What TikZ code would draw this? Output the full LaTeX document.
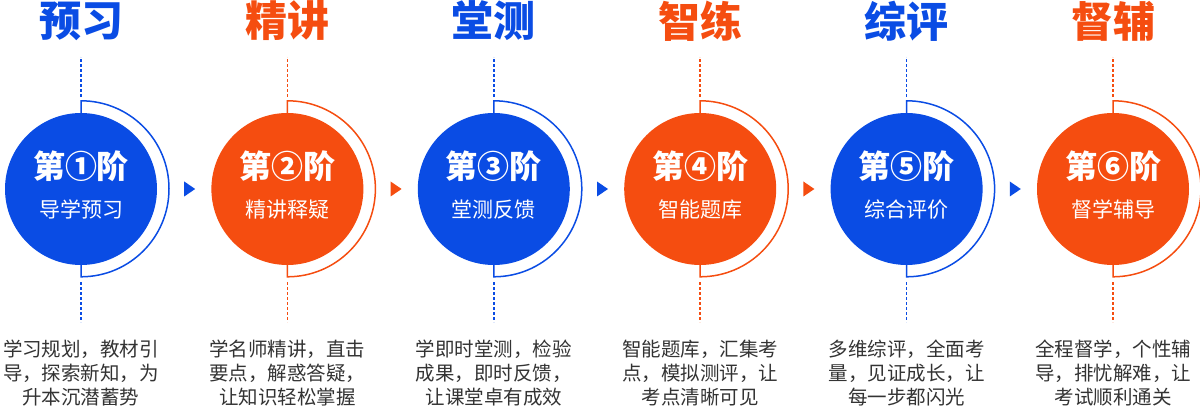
\documentclass[tikz,border=0pt]{standalone}
\usepackage{fontspec}
\setmainfont{Noto Sans CJK SC}
\usepackage{xcolor}
\usepackage{tikz}
\usetikzlibrary{positioning}
\definecolor{cblue}{RGB}{10,76,228}
\definecolor{corange}{RGB}{245,77,16}
\definecolor{cgray}{RGB}{51,51,51}

\begin{document}
\begin{tikzpicture}[x=1pt, y=1pt, node distance=54pt,
        stage/.style={circle, minimum size=152pt, inner sep=0pt, text=white, align=center, font=\fontsize{21}{39}\selectfont},
        title/.style={inner sep=0pt, font=\fontsize{42}{42}\selectfont\bfseries},
        desc/.style={inner sep=0pt, align=center, text=cgray, font=\fontsize{19.5}{24}\selectfont},
        ring/.style={line width=1.5pt},
        guide/.style={line width=1.5pt, dash pattern=on 3pt off 2pt}]

        \useasboundingbox (0,0) rectangle (1200,415);
        \coordinate (toprow) at (0,394);
        \coordinate (textrow) at (0,42);

        % Stages
        \node (s1) [stage, fill=cblue] at (81,226) {{\fontsize{32}{39}\selectfont\bfseries 第①阶}\\导学预习\rule[-9pt]{0pt}{9pt}};
        \node (s2) [right=of s1, stage, fill=corange] {{\fontsize{32}{39}\selectfont\bfseries 第②阶}\\精讲释疑\rule[-9pt]{0pt}{9pt}};
        \node (s3) [right=of s2, stage, fill=cblue] {{\fontsize{32}{39}\selectfont\bfseries 第③阶}\\堂测反馈\rule[-9pt]{0pt}{9pt}};
        \node (s4) [right=of s3, stage, fill=corange] {{\fontsize{32}{39}\selectfont\bfseries 第④阶}\\智能题库\rule[-9pt]{0pt}{9pt}};
        \node (s5) [right=of s4, stage, fill=cblue] {{\fontsize{32}{39}\selectfont\bfseries 第⑤阶}\\综合评价\rule[-9pt]{0pt}{9pt}};
        \node (s6) [right=of s5, stage, fill=corange] {{\fontsize{32}{39}\selectfont\bfseries 第⑥阶}\\督学辅导\rule[-9pt]{0pt}{9pt}};

        % Half rings
        \draw[ring, cblue] (s1.north) -- ++(0,12) arc[start angle=90, end angle=-90, radius=88] -- (s1.south);
        \draw[ring, corange] (s2.north) -- ++(0,12) arc[start angle=90, end angle=-90, radius=88] -- (s2.south);
        \draw[ring, cblue] (s3.north) -- ++(0,12) arc[start angle=90, end angle=-90, radius=88] -- (s3.south);
        \draw[ring, corange] (s4.north) -- ++(0,12) arc[start angle=90, end angle=-90, radius=88] -- (s4.south);
        \draw[ring, cblue] (s5.north) -- ++(0,12) arc[start angle=90, end angle=-90, radius=88] -- (s5.south);
        \draw[ring, corange] (s6.north) -- ++(0,12) arc[start angle=90, end angle=-90, radius=88] -- (s6.south);

        % Titles
        \node (t1) [title, text=cblue] at (s1 |- toprow) {预习};
        \node (t2) [title, text=corange] at (s2 |- toprow) {精讲};
        \node (t3) [title, text=cblue] at (s3 |- toprow) {堂测};
        \node (t4) [title, text=corange] at (s4 |- toprow) {智练};
        \node (t5) [title, text=cblue] at (s5 |- toprow) {综评};
        \node (t6) [title, text=corange] at (s6 |- toprow) {督辅};

        % Dashed guides
        \draw[guide, cblue] ([yshift=16pt]s1.north) -- ([yshift=56pt]s1.north);
        \draw[guide, cblue] ([yshift=-17pt]s1.south) -- ([yshift=-57pt]s1.south);
        \draw[guide, corange] ([yshift=16pt]s2.north) -- ([yshift=56pt]s2.north);
        \draw[guide, corange] ([yshift=-17pt]s2.south) -- ([yshift=-57pt]s2.south);
        \draw[guide, cblue] ([yshift=16pt]s3.north) -- ([yshift=56pt]s3.north);
        \draw[guide, cblue] ([yshift=-17pt]s3.south) -- ([yshift=-57pt]s3.south);
        \draw[guide, corange] ([yshift=16pt]s4.north) -- ([yshift=56pt]s4.north);
        \draw[guide, corange] ([yshift=-17pt]s4.south) -- ([yshift=-57pt]s4.south);
        \draw[guide, cblue] ([yshift=16pt]s5.north) -- ([yshift=56pt]s5.north);
        \draw[guide, cblue] ([yshift=-17pt]s5.south) -- ([yshift=-57pt]s5.south);
        \draw[guide, corange] ([yshift=16pt]s6.north) -- ([yshift=56pt]s6.north);
        \draw[guide, corange] ([yshift=-17pt]s6.south) -- ([yshift=-57pt]s6.south);

        % Arrows
        \coordinate (a1) at ([xshift=27pt]s1.east);
        \coordinate (a2) at ([xshift=27pt]s2.east);
        \coordinate (a3) at ([xshift=27pt]s3.east);
        \coordinate (a4) at ([xshift=27pt]s4.east);
        \coordinate (a5) at ([xshift=27pt]s5.east);
        \fill[cblue] (a1) ++(0,7.5) -- ++(11,-7.5) -- ++(-11,-7.5) -- cycle;
        \fill[corange] (a2) ++(0,7.5) -- ++(11,-7.5) -- ++(-11,-7.5) -- cycle;
        \fill[cblue] (a3) ++(0,7.5) -- ++(11,-7.5) -- ++(-11,-7.5) -- cycle;
        \fill[corange] (a4) ++(0,7.5) -- ++(11,-7.5) -- ++(-11,-7.5) -- cycle;
        \fill[cblue] (a5) ++(0,7.5) -- ++(11,-7.5) -- ++(-11,-7.5) -- cycle;

        % Descriptions
        \node (d1) [desc] at (s1 |- textrow) {学习规划，教材引\\导，探索新知，为\\升本沉潜蓄势};
        \node (d2) [desc] at (s2 |- textrow) {学名师精讲，直击\\要点，解惑答疑，\\让知识轻松掌握};
        \node (d3) [desc] at (s3 |- textrow) {学即时堂测，检验\\成果，即时反馈，\\让课堂卓有成效};
        \node (d4) [desc] at (s4 |- textrow) {智能题库，汇集考\\点，模拟测评，让\\考点清晰可见};
        \node (d5) [desc] at (s5 |- textrow) {多维综评，全面考\\量，见证成长，让\\每一步都闪光};
        \node (d6) [desc] at (s6 |- textrow) {全程督学，个性辅\\导，排忧解难，让\\考试顺利通关};

    \end{tikzpicture}
\end{document}
